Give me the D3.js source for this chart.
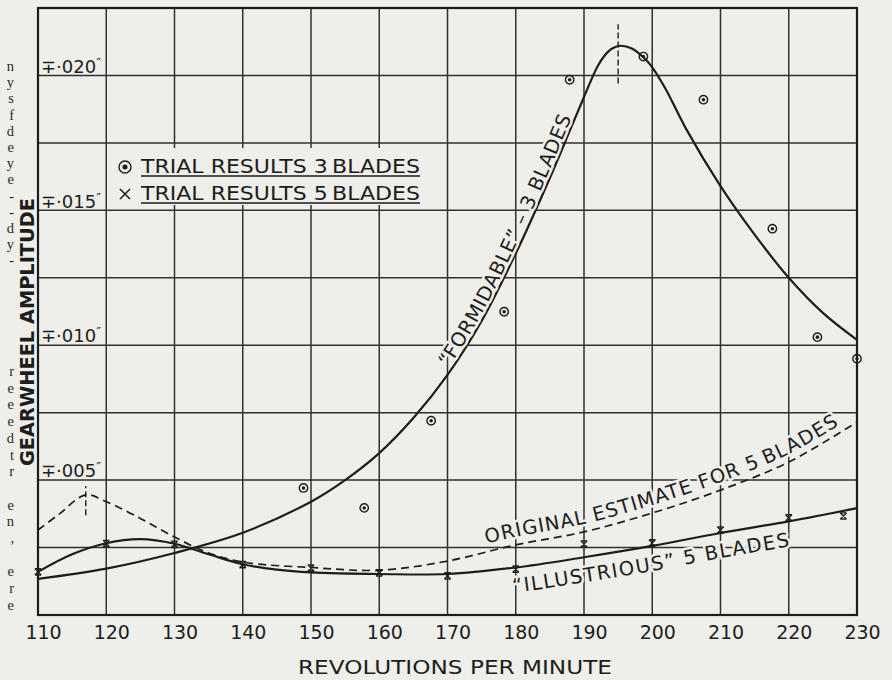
<!DOCTYPE html>
<html><head><meta charset="utf-8">
<script src="https://cdn.jsdelivr.net/npm/d3@7"></script>
<style>
html,body{margin:0;padding:0;background:#eeeeea;}
svg{display:block;}
</style></head><body>
<svg id="chart" width="892" height="680"></svg>
<script>
// ---------- data ----------
const rpmTicks = [110,120,130,140,150,160,170,180,190,200,210,220,230];
const ampGrid = [0,0.0025,0.005,0.0075,0.010,0.0125,0.015,0.0175,0.020,0.0225];
const ampLabelValues = [0.005,0.010,0.015,0.020];
const ampLabels = ["∓·005","∓·010","∓·015","∓·020"];

// "Formidable" 3 blades – fitted curve [rpm, amplitude]
const formidableCurve = [[110,0.00134],[120,0.00172],[130,0.00230],[140,0.00305],[150,0.00420],
  [155,0.00500],[160,0.00600],[165,0.00730],[170,0.00890],[175,0.01090],[180,0.01340],
  [185,0.01620],[188,0.01800],[190,0.01920],[191,0.01980],[192,0.02034],[193,0.02073],
  [194,0.02098],[195.3,0.02110],[197,0.02100],[199,0.02060],[200,0.02030],[202,0.01948],
  [205,0.01800],[210,0.01590],[215,0.01410],[220,0.01250],[225,0.01120],[230,0.01020]];
// "Illustrious" 5 blades – fitted curve
const illustriousCurve = [[110,0.00160],[115,0.00225],[120,0.00266],[125,0.00281],[130,0.00264],
  [135,0.00225],[140,0.00188],[145,0.00168],[150,0.00158],[160,0.00152],[170,0.00152],
  [180,0.00176],[190,0.00214],[200,0.00256],[210,0.00304],[220,0.00347],[230,0.00396]];
// Original estimate for 5 blades (dashed)
const originalEstimate = [[110,0.00315],[113,0.00372],[117,0.00445],[120,0.00420],[125,0.00358],
  [130,0.00289],[135,0.00230],[140,0.00196],[150,0.00176],[160,0.00166],[170,0.00200],
  [180,0.00260],[190,0.00308],[200,0.00378],[210,0.00463],[220,0.00567],[230,0.00715]];
// trial results
const trials3 = [[148.9,0.00471],[157.8,0.00397],[167.6,0.00720],[178.3,0.01124],[187.9,0.01984],
  [198.7,0.02070],[207.5,0.01910],[217.6,0.01432],[224.2,0.01030],[230,0.00950]];
const trials5 = [[110,0.00160],[120,0.00265],[130,0.00262],[140,0.00187],[150,0.00174],
  [160,0.00156],[170,0.00145],[180,0.00170],[190,0.00263],[200,0.00267],[210,0.00315],
  [220,0.00360],[228,0.00367]];
// dashed peak markers [rpm, low, high]
const peakMarks = [[117,0.00370,0.00478],[195,0.01970,0.02190]];

const legendLabels = ["TRIAL RESULTS   3\u2009BLADES","TRIAL RESULTS   5\u2009BLADES"];
const curveLabels = ["“FORMIDABLE” – 3 BLADES","ORIGINAL ESTIMATE FOR 5\u2009BLADES","“ILLUSTRIOUS” 5 BLADES"];
const xTitle = "REVOLUTIONS PER MINUTE";
const yTitle = "GEARWHEEL AMPLITUDE";
// fragments of the neighbouring book column (left margin)
const marginTop = ["n","y","s","f","d","e","y","e","-","-","d","y","-"];
const marginBottom = ["r","e","e","e","d","t","r","","e","n",",","","e","r","e"];

// ---------- drawing ----------
const BG = "#eeeeea", INK = "#1d1d1b";
const FONT = "'DejaVu Sans', sans-serif";
const svg = d3.select("#chart");
svg.append("rect").attr("width",892).attr("height",680).attr("fill",BG);

const x = d3.scaleLinear().domain([110,230]).range([38,857]);
const y = d3.scaleLinear().domain([0,0.0225]).range([615,8]);

// grid
const grid = svg.append("g").attr("stroke",INK).attr("stroke-width",1.5).attr("opacity",0.9);
grid.selectAll("line.v").data(rpmTicks).join("line")
  .attr("x1",d=>x(d)).attr("x2",d=>x(d)).attr("y1",y(0.0225)).attr("y2",y(0));
grid.selectAll("line.h").data(ampGrid).join("line").attr("class","h")
  .attr("x1",x(110)).attr("x2",x(230)).attr("y1",d=>y(d)).attr("y2",d=>y(d));
svg.append("rect").attr("x",x(110)).attr("y",y(0.0225)).attr("width",x(230)-x(110))
  .attr("height",y(0)-y(0.0225)).attr("fill","none").attr("stroke",INK).attr("stroke-width",2.2);

// legend mask
svg.append("rect").attr("x",112).attr("y",148).attr("width",316).attr("height",57).attr("fill",BG);

// curves
const curve = d3.curveCatmullRom.alpha(0.5);
const lineGen = d3.line().x(d=>x(d[0])).y(d=>y(d[1])).curve(curve);
svg.append("path").attr("d",lineGen(formidableCurve)).attr("fill","none").attr("stroke",INK).attr("stroke-width",2.2);
svg.append("path").attr("d",lineGen(illustriousCurve)).attr("fill","none").attr("stroke",INK).attr("stroke-width",2.2);
svg.append("path").attr("d",lineGen(originalEstimate)).attr("fill","none").attr("stroke",INK)
  .attr("stroke-width",1.7).attr("stroke-dasharray","8,5");
svg.selectAll("line.peak").data(peakMarks).join("line").attr("class","peak")
  .attr("x1",d=>x(d[0])).attr("x2",d=>x(d[0])).attr("y1",d=>y(d[1])).attr("y2",d=>y(d[2]))
  .attr("stroke",INK).attr("stroke-width",1.4).attr("stroke-dasharray","6,3");

// markers
function circleDot(sel, r){
  sel.append("circle").attr("r",r).attr("fill","none").attr("stroke",INK).attr("stroke-width",1.4);
  sel.append("circle").attr("r",r*0.42).attr("fill",INK);
}
function cross(sel, s){
  sel.append("path").attr("d",`M${-s},${-s}L${s},${s}M${s},${-s}L${-s},${s}M${-s},${-s}h${2*s}M${-s},${s}h${2*s}`)
    .attr("stroke",INK).attr("stroke-width",1.3).attr("fill","none");
}
svg.selectAll("g.t3").data(trials3).join("g").attr("class","t3")
  .attr("transform",d=>`translate(${x(d[0])},${y(d[1])})`).each(function(){circleDot(d3.select(this),4.2);});
svg.selectAll("g.t5").data(trials5).join("g").attr("class","t5")
  .attr("transform",d=>`translate(${x(d[0])},${y(d[1])})`).each(function(){cross(d3.select(this),3.2);});

// curve labels along text paths
const defs = svg.append("defs");
const shifted = (data, dx, dy) => d3.line().x(d=>x(d[0])+dx).y(d=>y(d[1])+dy).curve(curve)(data);
defs.append("path").attr("id","lp0").attr("d",shifted(formidableCurve.filter(d=>d[0]>=165&&d[0]<=192),-3,-1.5));
defs.append("path").attr("id","lp1").attr("d",shifted(originalEstimate.filter(d=>d[0]>=170),0,-8));
defs.append("path").attr("id","lp2").attr("d",shifted(illustriousCurve.filter(d=>d[0]>=170),0,25));
const labelOffsets = [62, 40, 66];
const labelSpacing = [0.6, 1.1, 1.5];
curveLabels.forEach((t,i)=>{
  const styleText = sel => sel.attr("font-family",FONT).attr("font-size",19.5).attr("fill",INK)
    .attr("letter-spacing",labelSpacing[i]);
  const addPiece = (str, off) => svg.append("text").call(styleText)
      .attr("stroke",BG).attr("stroke-width",5).attr("paint-order","stroke").attr("stroke-linejoin","round")
      .append("textPath").attr("href","#lp"+i).attr("startOffset",labelOffsets[i]+off).text(str);
  if(i===0){ addPiece(t,0); return; }
  // gentle curves: one text element per word, offsets measured on a straight copy
  const probe = svg.append("text").call(styleText).attr("x",0).attr("y",-50).text(t);
  const node = probe.node();
  let start = 0;
  t.split(" ").forEach(word=>{
    addPiece(word, start===0 ? 0 : node.getSubStringLength(0,start));
    start += word.length + 1;
  });
  probe.remove();
});

// legend
const leg = svg.append("g").attr("font-family",FONT).attr("font-size",19.5).attr("fill",INK);
legendLabels.forEach((t,i)=>{
  const by = 173 + i*27;
  leg.append("text").attr("x",141).attr("y",by).attr("textLength",279).attr("lengthAdjust","spacingAndGlyphs").text(t);
  leg.append("line").attr("x1",141).attr("x2",420).attr("y1",by+3).attr("y2",by+3).attr("stroke",INK).attr("stroke-width",1.4);
  const g = leg.append("g").attr("transform",`translate(125,${by-6})`);
  if(i===0) circleDot(g,6); else { g.append("path").attr("d","M-5,-5L5,5M5,-5L-5,5").attr("stroke",INK).attr("stroke-width",1.5); }
});

// x axis tick labels
const xa = svg.append("g").attr("transform",`translate(0,${y(0)})`)
  .call(d3.axisBottom(x).tickValues(rpmTicks).tickSize(0).tickPadding(11));
xa.select(".domain").remove();
xa.selectAll("text").attr("font-family",FONT).attr("font-size",19).attr("fill",INK).attr("dx",5);

// y labels inside plot
const ya = svg.append("g").attr("transform",`translate(${x(110)},0)`)
  .call(d3.axisRight(y).tickValues(ampLabelValues).tickFormat((d,i)=>ampLabels[i]).tickSize(0).tickPadding(3));
ya.select(".domain").remove();
ya.selectAll("text").attr("font-family",FONT).attr("font-size",18).attr("fill",INK).attr("dy","-0.18em");
ya.selectAll("text").append("tspan").attr("font-size",13).attr("dy",-6).text("″");

// titles
svg.append("text").attr("x",455).attr("y",674).attr("text-anchor","middle").attr("font-family",FONT)
  .attr("font-size",20).attr("fill",INK).attr("textLength",314).attr("lengthAdjust","spacingAndGlyphs").text(xTitle);
svg.append("text").attr("transform","translate(34,332) rotate(-90)").attr("text-anchor","middle")
  .attr("font-family",FONT).attr("font-weight","bold").attr("font-size",20).attr("fill",INK)
  .attr("textLength",268).attr("lengthAdjust","spacingAndGlyphs").text(yTitle);

// margin fragments
const mg = svg.append("g").attr("font-family","'Liberation Serif', serif").attr("font-size",14.5).attr("fill","#2a2a28").attr("text-anchor","end");
marginTop.forEach((c,i)=> mg.append("text").attr("x",14).attr("y",71+16.2*i).text(c));
marginBottom.forEach((c,i)=> mg.append("text").attr("x",14).attr("y",376+16.7*i).text(c));
</script>
</body></html>
